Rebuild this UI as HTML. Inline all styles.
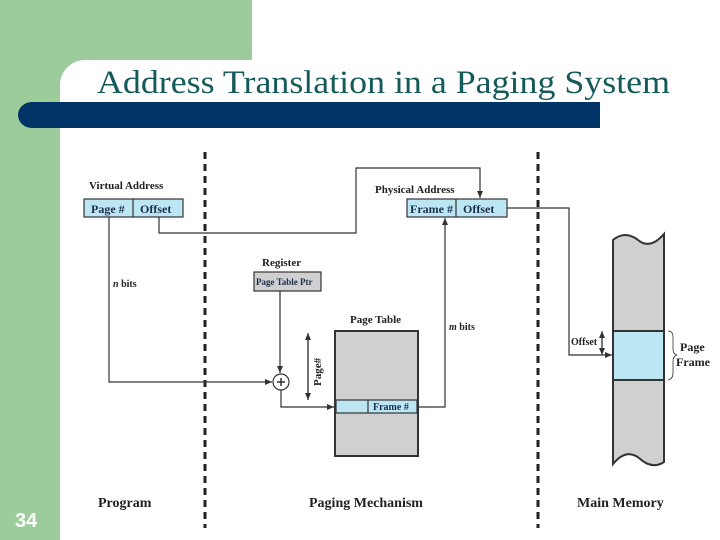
<!DOCTYPE html>
<html><head><style>
body{margin:0;width:720px;height:540px;overflow:hidden;background:#fff;position:relative}
</style></head><body>
<svg width="720" height="540" xmlns="http://www.w3.org/2000/svg" style="position:absolute;left:0;top:0">
<defs><marker id="a" markerWidth="8" markerHeight="8" refX="7" refY="4" orient="auto" markerUnits="userSpaceOnUse"><path d="M0,1 L7,4 L0,7 Z" fill="#333"/></marker></defs>
<rect x="0" y="0" width="252" height="60" fill="#9ccc9c"/>
<rect x="0" y="0" width="60" height="540" fill="#9ccc9c"/>
<path d="M60,60 h25 a25,25 0 0 0 -25,25 Z" fill="#9ccc9c"/>
<path d="M60,102 H600 V128 H32 a14,13 0 0 1 0,-26 Z" fill="#003366"/>
<text x="97" y="93" font-family="Liberation Serif,serif" font-size="33" fill="#155a5a" textLength="573" lengthAdjust="spacingAndGlyphs">Address Translation in a Paging System</text>
<text x="15" y="527" font-family="Liberation Sans,sans-serif" font-size="20" font-weight="bold" fill="#fff">34</text>
<g stroke="#222" stroke-width="3" stroke-dasharray="7,5"><line x1="205" y1="152" x2="205" y2="528"/><line x1="538" y1="152" x2="538" y2="528"/></g>
<g font-family="Liberation Serif,serif" font-weight="bold" fill="#222">
<text x="89" y="189" font-size="11">Virtual Address</text>
<text x="375" y="193" font-size="11">Physical Address</text>
<text x="262" y="266" font-size="11">Register</text>
<text x="350" y="323" font-size="11">Page Table</text>
<text x="98" y="507" font-size="14">Program</text>
<text x="309" y="507" font-size="14">Paging Mechanism</text>
<text x="577" y="507" font-size="14">Main Memory</text>
</g>
<g stroke="#333" stroke-width="1.2" fill="#bde6f5">
<rect x="84" y="199" width="99" height="18"/><line x1="133" y1="199" x2="133" y2="217"/>
<rect x="407" y="199" width="100" height="18"/><line x1="456" y1="199" x2="456" y2="217"/>
<rect x="254" y="272" width="67" height="19" fill="#d0d0d0"/>
<rect x="335" y="331" width="83" height="125" fill="#d0d0d0" stroke-width="2"/>
<rect x="336" y="400" width="81" height="13"/><line x1="368" y1="400" x2="368" y2="413"/>
<path d="M613,240 q12,-10 25,0 q12,10 26,-6 V462 q-12,8 -25,-4 q-13,-10 -26,6 Z" fill="#d0d0d0" stroke-width="2"/>
<rect x="613" y="331" width="51" height="49" stroke-width="2"/>
</g>
<g font-family="Liberation Serif,serif" font-weight="bold" fill="#1c2e4a">
<text x="91" y="213" font-size="12">Page #</text>
<text x="140" y="213" font-size="12">Offset</text>
<text x="410" y="213" font-size="12">Frame #</text>
<text x="463" y="213" font-size="12">Offset</text>
<text x="256" y="285" font-size="9">Page Table Ptr</text>
<text x="373" y="410" font-size="10">Frame #</text>
</g>
<g font-family="Liberation Serif,serif" font-weight="bold" fill="#222" font-size="10">
<text x="113" y="287"><tspan font-style="italic">n</tspan> bits</text>
<text x="449" y="330"><tspan font-style="italic">m</tspan> bits</text>
<text x="571" y="345">Offset</text>
<text x="680" y="351" font-size="12">Page</text>
<text x="676" y="366" font-size="12">Frame</text>
<text transform="translate(321,386) rotate(-90)" font-size="11">Page#</text>
</g>
<g stroke="#333" stroke-width="1.2" fill="none">
<polyline points="109,217 109,382 272,382" marker-end="url(#a)"/>
<polyline points="159,217 159,233 356,233 356,168 480,168 480,198" marker-end="url(#a)"/>
<polyline points="507,208 569,208 569,355 612,355" marker-end="url(#a)"/>
<polyline points="280,291 280,373" marker-end="url(#a)"/>
<circle cx="281" cy="382" r="8" fill="#fff"/>
<path d="M277,382 h8 M281,378 v8" stroke-width="1.5"/>
<polyline points="281,390 281,407 334,407" marker-end="url(#a)"/>
<polyline points="418,407 445,407 445,218" marker-end="url(#a)"/>
<line x1="308" y1="340" x2="308" y2="400" marker-end="url(#a)"/>
<line x1="308" y1="400" x2="308" y2="333" marker-end="url(#a)"/>
<line x1="602" y1="338" x2="602" y2="355" marker-end="url(#a)"/>
<line x1="602" y1="348" x2="602" y2="331" marker-end="url(#a)"/>
<path d="M668,331 q5,0 5,6 v12 q0,5 4,6 q-4,1 -4,6 v12 q0,6 -5,7" stroke-width="0.8"/>
</g>
</svg>
</body></html>
